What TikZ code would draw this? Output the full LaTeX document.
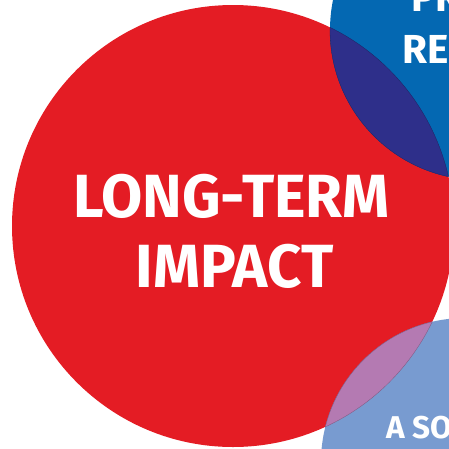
\documentclass[tikz,border=0pt]{standalone}
\usepackage{fontspec}
\setmainfont{Fira Sans}
\usepackage{xcolor}
\definecolor{impactred}{HTML}{E41C24}
\definecolor{resblue}{HTML}{0468B2}
\definecolor{resoverlap}{HTML}{2E2F8A}
\definecolor{solblue}{HTML}{789BD0}
\definecolor{soloverlap}{HTML}{B47AB2}
\tikzstyle{bubble} = [circle, inner sep=0pt, draw=none]
\tikzstyle{bigtext} = [text=white, inner sep=0pt, anchor=base, font=\fontsize{61}{70}\selectfont\bfseries]
\tikzstyle{midtext} = [text=white, inner sep=0pt, anchor=base west, font=\fontsize{40.5}{47}\selectfont\bfseries]
\tikzstyle{smtext} = [text=white, inner sep=0pt, anchor=base west, font=\fontsize{31.5}{36}\selectfont\bfseries]
\tikzstyle{lens} = [line width=0.3pt]

\begin{document}
\begin{tikzpicture}[x=1pt, y=-1pt]
        \useasboundingbox (0,0) rectangle (449,448);
        \clip (0,0) rectangle (449,448);

        % Circles
        \node[bubble, fill=impactred, minimum size=442pt] (impact) at (233,226) {};
        \node[bubble, fill=resblue, minimum size=300pt] (research) at (480,30) {};
        \node[bubble, fill=solblue, minimum size=288pt] (solution) at (465,462) {};

        % Overlaps
        \begin{scope}
            \clip (impact.center) circle (221pt);
            \fill[resoverlap] (research.center) circle (150pt);
            \fill[soloverlap] (solution.center) circle (144pt);
        \end{scope}
        \begin{scope}
            \clip (research.center) circle (150pt);
            \draw[lens, resoverlap!70!black] (impact.center) circle (221pt);
        \end{scope}
        \begin{scope}
            \clip (impact.center) circle (221pt);
            \draw[lens, resoverlap!70!black] (research.center) circle (150pt);
            \draw[lens, soloverlap!70!black] (solution.center) circle (144pt);
        \end{scope}
        \begin{scope}
            \clip (solution.center) circle (144pt);
            \draw[lens, soloverlap!70!black] (impact.center) circle (221pt);
        \end{scope}

        % Text Labels
        \node[bigtext] (longterm) at (231.5,217) {\scalebox{0.98}[1]{LONG-TERM}};
        \node[bigtext] (impacttext) at (234.5,287) {\scalebox{0.98}[1]{IMPACT}};
        \node[midtext] (restop) at (411,11) {PR};
        \node[midtext] (resmid) at (402,63) {RE};
        \node[smtext] (soltext) at (386,438) {A SO};

    \end{tikzpicture}
\end{document}
